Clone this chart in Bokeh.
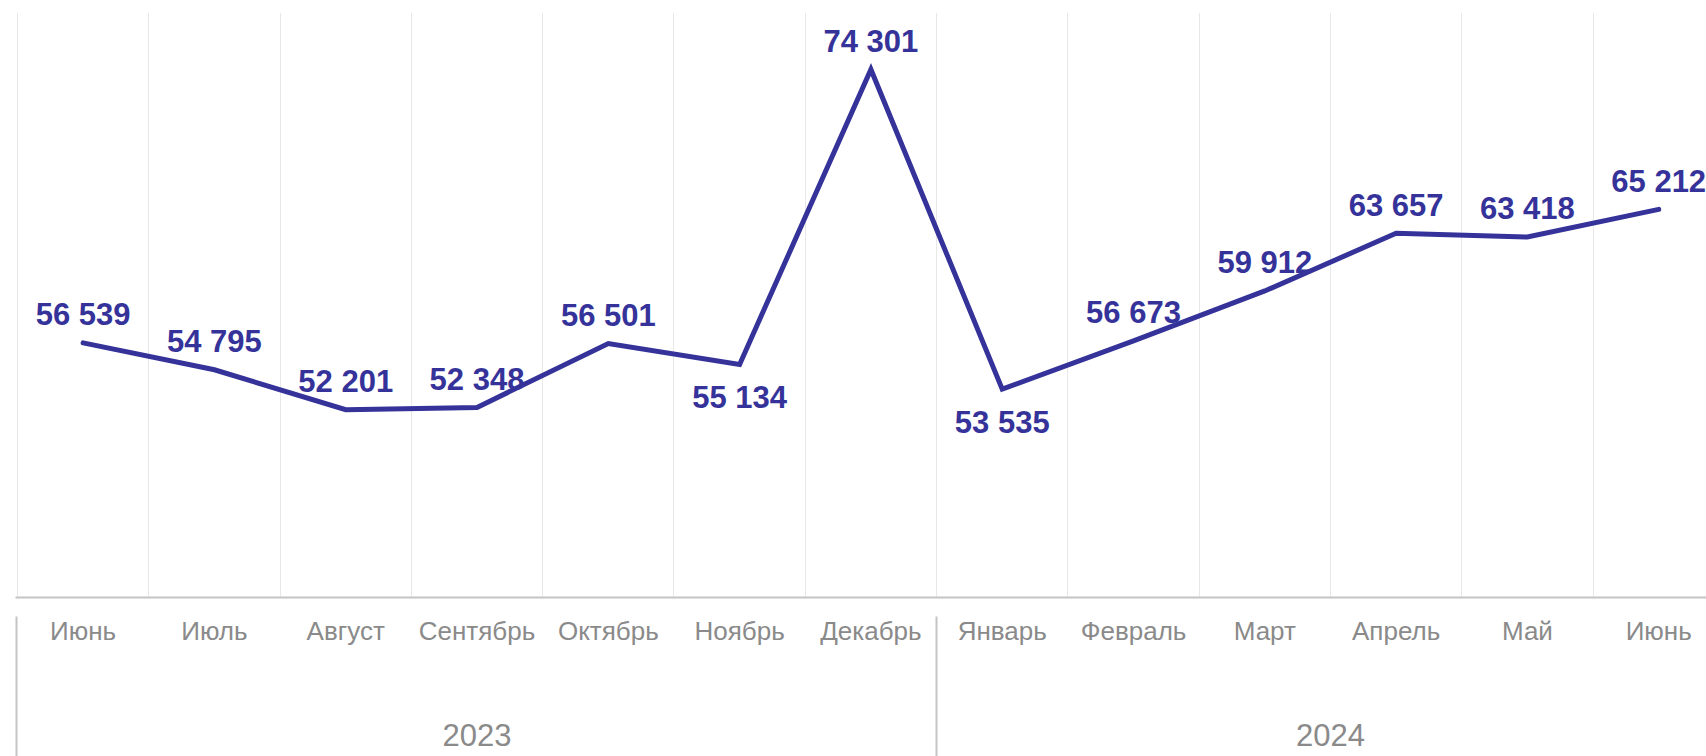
from bokeh.plotting import figure
from bokeh.models import FixedTicker, LinearAxis, Range1d, ColumnDataSource, Grid
from bokeh.core.properties import value
from bokeh.embed import file_html
from bokeh.resources import INLINE

months = ["Июнь", "Июль", "Август", "Сентябрь", "Октябрь", "Ноябрь", "Декабрь",
          "Январь", "Февраль", "Март", "Апрель", "Май", "Июнь"]
years = ["2023", "2024"]
months_per_year = [7, 6]
values = [56539, 54795, 52201, 52348, 56501, 55134, 74301,
          53535, 56673, 59912, 63657, 63418, 65212]
label_below = [False, False, False, False, False, True, False,
               True, False, False, False, False, False]

LINE_COLOR = "#35339a"
GRAY_TEXT = "#8a8a8a"
AXIS_GRAY = "#c4c4c4"
FONT = "Liberation Sans"

xs = list(range(len(months)))
labels = [f"{v:,}".replace(",", " ") for v in values]
offsets = [33 if b else -28 for b in label_below]

src = ColumnDataSource(dict(x=xs, y=values, label=labels, off=offsets))

p = figure(width=1706, height=756, output_backend="svg", toolbar_location=None,
           x_range=Range1d(-0.515, 12.364), y_range=Range1d(40000, 78000),
           x_axis_location=None, y_axis_location=None,
           min_border_left=15, min_border_right=0, min_border_top=12,
           min_border_bottom=0)
p.outline_line_color = None
p.background_fill_color = "white"
p.border_fill_color = "white"
p.grid.visible = False

# vertical gridlines at category boundaries
bounds = [i - 0.5 for i in range(len(months) + 1)]
grid = Grid(dimension=0, ticker=FixedTicker(ticks=bounds),
            grid_line_color="#e8e8e8", grid_line_width=1)
p.add_layout(grid)

p.line("x", "y", source=src, line_color=LINE_COLOR, line_width=5,
       line_cap="round", line_join="miter")
p.text("x", "y", text="label", source=src, y_offset="off",
       text_align="center", text_baseline="middle",
       text_font=value(FONT), text_font_style="bold", text_font_size="31px",
       text_color=LINE_COLOR)

# month axis
month_axis = LinearAxis(ticker=FixedTicker(ticks=xs, minor_ticks=[]),
                        major_label_overrides={i: m for i, m in enumerate(months)})
month_axis.axis_line_color = AXIS_GRAY
month_axis.axis_line_width = 2
month_axis.major_tick_line_color = None
month_axis.minor_tick_line_color = None
month_axis.major_tick_out = 0
month_axis.major_tick_in = 0
month_axis.minor_tick_out = 0
month_axis.minor_tick_in = 0
month_axis.major_label_standoff = 18
month_axis.major_label_text_font = FONT
month_axis.major_label_text_font_size = "26px"
month_axis.major_label_text_color = GRAY_TEXT
p.add_layout(month_axis, "below")

# year axis with group separators
year_centers = []
seps = [-0.51]
start = 0
for n in months_per_year:
    year_centers.append(start + (n - 1) / 2)
    start += n
    seps.append(start - 0.5)
seps = seps[:-1]

year_axis = LinearAxis(ticker=FixedTicker(ticks=year_centers, minor_ticks=seps),
                       major_label_overrides={c: y for c, y in zip(year_centers, years)})
year_axis.axis_line_color = None
year_axis.major_tick_line_color = None
year_axis.major_tick_out = 0
year_axis.major_tick_in = 0
year_axis.minor_tick_line_color = AXIS_GRAY
year_axis.minor_tick_line_width = 2
year_axis.minor_tick_in = 32
year_axis.minor_tick_out = 125
year_axis.major_label_standoff = -50
year_axis.major_label_text_font = FONT
year_axis.major_label_text_font_size = "31px"
year_axis.major_label_text_color = GRAY_TEXT
p.add_layout(year_axis, "below")

# empty spacer below the year labels
spacer = LinearAxis(ticker=FixedTicker(ticks=[0], minor_ticks=[]),
                    major_label_overrides={0: ""})
spacer.axis_line_color = None
spacer.major_tick_line_color = None
spacer.minor_tick_line_color = None
spacer.major_tick_out = 8
spacer.major_tick_in = 0
spacer.minor_tick_out = 0
spacer.minor_tick_in = 0
spacer.major_label_standoff = 0
spacer.major_label_text_font_size = "0px"
p.add_layout(spacer, "below")

open("out.html", "w").write(file_html(p, INLINE))
